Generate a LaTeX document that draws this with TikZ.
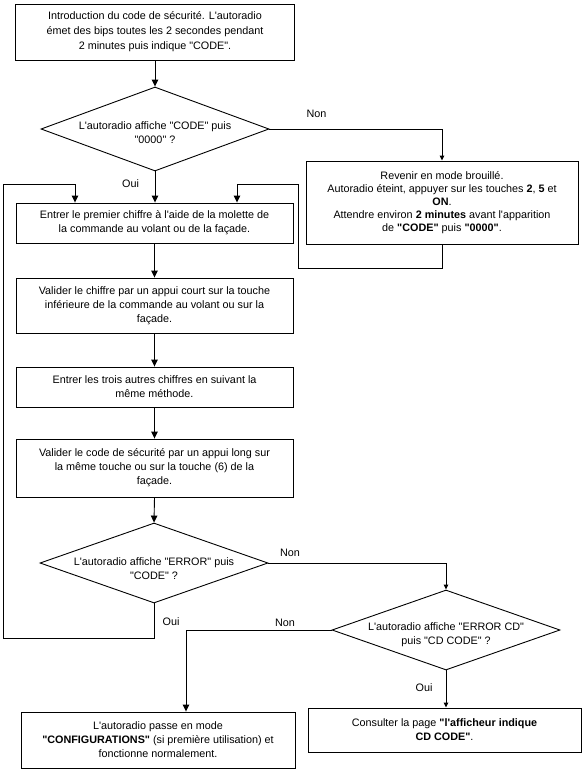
\documentclass[tikz,border=0pt]{standalone}
\usepackage{fontspec}
\setmainfont{Liberation Sans}[Ligatures=TeXOff]
\usetikzlibrary{shapes.geometric,arrows.meta}
\tikzset{
  every node/.style={font=\fontsize{10.8}{14}\selectfont, inner sep=0pt},
  stepbox/.style={draw, rectangle, line width=0.9pt, align=center},
  decision/.style={draw, diamond, line width=0.9pt, minimum width=228pt, inner sep=0pt},
  dtext/.style={align=center},
  lbl/.style={},
  conn/.style={line width=0.9pt},
  arr/.style={conn, -{Triangle[width=6.5pt,length=7pt]}},
  sarr/.style={conn, -{Triangle[width=4.5pt,length=5pt]}}
}
\begin{document}
\begin{tikzpicture}[x=1pt,y=-1pt]
\useasboundingbox (0,0) rectangle (584,774);

% boxes
\node[stepbox, minimum width=279pt, minimum height=56pt, font=\fontsize{10.8}{15}\selectfont] (b1) at (155,32)
  {Introduction du code de sécurité. L'autoradio\\émet des bips toutes les 2 secondes pendant\\2 minutes puis indique "CODE".};
\node[stepbox, minimum width=272pt, minimum height=83pt, font=\fontsize{10.8}{13}\selectfont] (r) at (442,202.5)
  {Revenir en mode brouillé.\\Autoradio éteint, appuyer sur les touches \textbf{2}, \textbf{5} et\\\textbf{ON}.\\Attendre environ \textbf{2 minutes} avant l'apparition\\de \textbf{"CODE"} puis \textbf{"0000"}.};
\node[stepbox, minimum width=277pt, minimum height=40pt] (b2) at (154.5,223)
  {Entrer le premier chiffre à l'aide de la molette de\\la commande au volant ou de la façade.};
\node[stepbox, minimum width=277pt, minimum height=55pt] (b3) at (154.5,305.5)
  {Valider le chiffre par un appui court sur la touche\\inférieure de la commande au volant ou sur la\\façade.};
\node[stepbox, minimum width=277pt, minimum height=40pt] (b4) at (154.5,387)
  {Entrer les trois autres chiffres en suivant la\\même méthode.};
\node[stepbox, minimum width=277pt, minimum height=58pt] (b5) at (154.5,468)
  {Valider le code de sécurité par un appui long sur\\la même touche ou sur la touche (6) de la\\façade.};
\node[stepbox, minimum width=274pt, minimum height=56pt] (b6) at (158,740)
  {L'autoradio passe en mode\\\textbf{"CONFIGURATIONS"} (si première utilisation) et\\fonctionne normalement.};
\node[stepbox, minimum width=273pt, minimum height=44pt] (b7) at (444.5,730)
  {Consulter la page \textbf{"l'afficheur indique}\\\textbf{CD CODE"}.};

% decisions
\node[decision, minimum height=84pt] (d1) at (155,129) {};
\node[dtext] (d1t) at (155,133) {L'autoradio affiche "CODE" puis\\"0000" ?};
\node[decision, minimum height=80pt] (d2) at (154,563) {};
\node[dtext] (d2t) at (154,569) {L'autoradio affiche "ERROR" puis\\"CODE" ?};
\node[decision, minimum height=80pt] (d3) at (446,630) {};
\node[dtext] (d3t) at (446,635) {L'autoradio affiche "ERROR CD"\\puis "CD CODE" ?};

% labels
\node[lbl] (n1) at (316.5,114) {Non};
\node[lbl] (o1) at (130.5,184) {Oui};
\node[lbl] (n2) at (290,553) {Non};
\node[lbl] (o2) at (171,622) {Oui};
\node[lbl] (n3) at (285,623) {Non};
\node[lbl] (o3) at (424,688) {Oui};

% helper coordinates
\coordinate (cR1) at (298,268);
\coordinate (cR2) at (237,184);
\coordinate (cL1) at (3,638);
\coordinate (cL2) at (75,184);
\coordinate (c11) at (186,630);

% connectors
\draw[arr] (b1.south) -- (d1.north);
\draw[sarr] (d1.east) -| (r.north);
\draw[arr] (d1.south) -- (d1.south |- b2.north);
\draw[arr] (r.south) |- (cR1) |- (cR2) -- (cR2 |- b2.north);
\draw[arr] (b2.south) -- (b2.south |- b3.north);
\draw[arr] (b3.south) -- (b3.south |- b4.north);
\draw[arr] (b4.south) -- (b4.south |- b5.north);
\draw[arr] (b5.south) -- (d2.north);
\draw[sarr] (d2.east) -| (d3.north);
\draw[arr] (d2.south) |- (cL1) |- (cL2) -- (cL2 |- b2.north);
\draw[arr] (d3.west) -- (c11) -- (c11 |- b6.north);
\draw[sarr] (d3.south) -- (d3.south |- b7.north);
\end{tikzpicture}
\end{document}
